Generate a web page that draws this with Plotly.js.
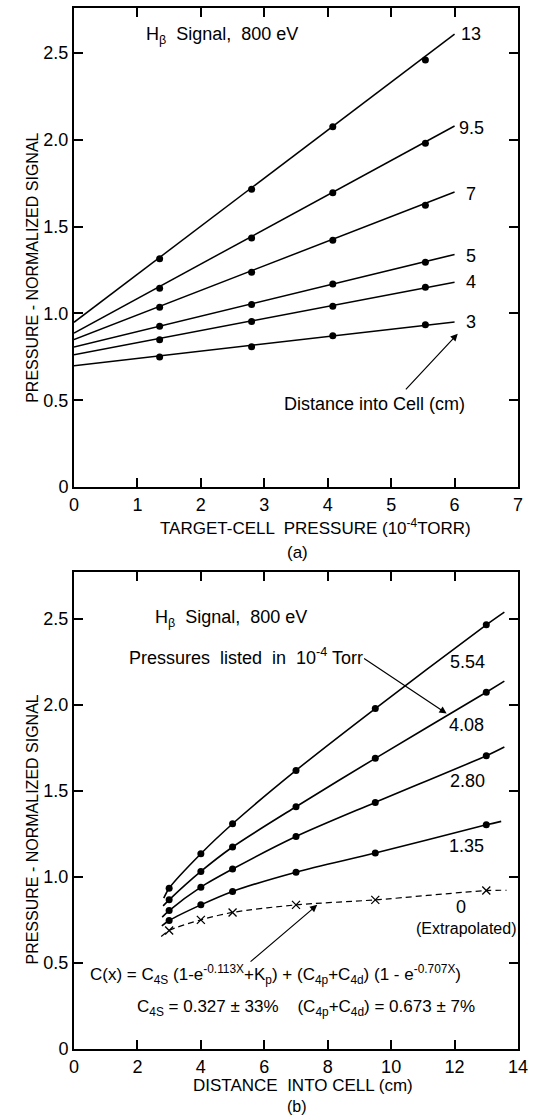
<!DOCTYPE html>
<html>
<head>
<meta charset="utf-8">
<script src="https://cdn.plot.ly/plotly-3.0.1.min.js"></script>
<style>html,body{margin:0;padding:0;background:#fff;}#chart{width:540px;height:1118px;}</style>
</head>
<body>
<div id="chart"></div>
<script>
// ---------- Panel (a): signal vs target-cell pressure ----------
const pressures = [1.35, 2.80, 4.08, 5.54];          // 10^-4 Torr
const distanceLabels = ['13', '9.5', '7', '5', '4', '3']; // cm
const signalD13  = [1.315, 1.715, 2.075, 2.461];
const signalD9_5 = [1.145, 1.434, 1.696, 1.980];
const signalD7   = [1.035, 1.237, 1.422, 1.624];
const signalD5   = [0.926, 1.051, 1.170, 1.295];
const signalD4   = [0.849, 0.954, 1.041, 1.151];
const signalD3   = [0.749, 0.808, 0.872, 0.935];
const fitX = [0, 6];
const fitAtZero = [0.949, 0.887, 0.849, 0.807, 0.762, 0.699];
const fitAtSix  = [2.610, 2.080, 1.700, 1.340, 1.180, 0.951];
const labelY_a  = [2.61, 2.07, 1.69, 1.33, 1.18, 0.95];

// ---------- Panel (b): signal vs distance into cell ----------
const distances = [3, 4, 5, 7, 9.5, 13];             // cm
const pressureLabels = ['5.54', '4.08', '2.80', '1.35', '0'];
const signalP554 = [0.934, 1.134, 1.308, 1.618, 1.977, 2.463];
const signalP408 = [0.866, 1.031, 1.173, 1.407, 1.688, 2.072];
const signalP280 = [0.804, 0.940, 1.045, 1.234, 1.432, 1.703];
const signalP135 = [0.746, 0.837, 0.915, 1.027, 1.138, 1.302];
const signalP0   = [0.688, 0.750, 0.793, 0.837, 0.866, 0.920]; // extrapolated
const curveStartX = [2.83, 2.81, 2.78, 2.77, 2.75];
const curveStartY = [0.876, 0.831, 0.766, 0.715, 0.653];
const curveEndX   = [13.57, 13.57, 13.57, 13.47, 13.64];
const curveEndY   = [2.537, 2.136, 1.754, 1.322, 0.922];
const labelX_b = [12.41, 12.37, 12.42, 12.37, 12.21];
const labelY_b = [2.25, 1.884, 1.554, 1.18, 0.827];

const FONT = 'Liberation Sans, Arial, sans-serif';
const traces = [];
const seriesA = [signalD13, signalD9_5, signalD7, signalD5, signalD4, signalD3];
seriesA.forEach((s, i) => {
  traces.push({x: fitX, y: [fitAtZero[i], fitAtSix[i]], mode: 'lines', xaxis: 'x', yaxis: 'y',
    line: {color: '#000', width: 1.5}, hoverinfo: 'skip', showlegend: false});
  traces.push({x: pressures, y: s, mode: 'markers', xaxis: 'x', yaxis: 'y',
    marker: {color: '#000', size: 7}, showlegend: false, name: distanceLabels[i] + ' cm'});
});

const seriesB = [signalP554, signalP408, signalP280, signalP135, signalP0];
seriesB.forEach((s, i) => {
  const isZero = i === 4;
  traces.push({x: [curveStartX[i]].concat(distances, [curveEndX[i]]),
    y: [curveStartY[i]].concat(s, [curveEndY[i]]), mode: 'lines', xaxis: 'x2', yaxis: 'y2',
    line: {color: '#000', width: isZero ? 1.2 : 1.6, shape: 'spline', smoothing: 0.8, dash: isZero ? '6px,4px' : 'solid'},
    hoverinfo: 'skip', showlegend: false});
  traces.push({x: distances, y: s, mode: 'markers', xaxis: 'x2', yaxis: 'y2',
    marker: isZero ? {color: '#000', size: 8, symbol: 'x-thin-open', line: {width: 1.3, color: '#000'}} : {color: '#000', size: 7},
    showlegend: false, name: pressureLabels[i]});
});

const axisCommon = {showline: true, mirror: 'ticks', linecolor: '#000', linewidth: 2,
  ticks: 'inside', ticklen: 9, tickwidth: 2, tickcolor: '#000', showgrid: false, zeroline: false,
  tickfont: {family: FONT, size: 18, color: '#000'}};

const ann = [];
const txt = (text, x, y, xref, yref, size, extra) => Object.assign({text: text, x: x, y: y, xref: xref, yref: yref,
  showarrow: false, font: {family: FONT, size: size, color: '#000'}}, extra || {});

// panel (a) labels
distanceLabels.forEach((l, i) => ann.push(txt(l, 6.26, labelY_a[i], 'x', 'y', 18, {xanchor: 'center'})));
ann.push(txt('H<sub>β</sub>  Signal,  800 eV', 1.1, 2.6, 'x', 'y', 18, {xanchor: 'left'}));
ann.push(txt('Distance into Cell (cm)', 3.28, 0.48, 'x', 'y', 18, {xanchor: 'left'}));
ann.push({x: 6.05, y: 0.883, ax: 5.21, ay: 0.554, xref: 'x', yref: 'y', axref: 'x', ayref: 'y',
  showarrow: true, arrowhead: 2, arrowsize: 1.2, arrowwidth: 1.2, arrowcolor: '#000', text: ''});
ann.push(txt('TARGET-CELL  PRESSURE (10<sup>-4</sup>TORR)', 0.543, 0.5014, 'paper', 'paper', 17, {yanchor: 'middle'}));
ann.push(txt('(a)', 0.503, 0.4774, 'paper', 'paper', 17, {yanchor: 'middle'}));
ann.push(txt('PRESSURE - NORMALIZED SIGNAL', -0.117, 0.75, 'paper', 'paper', 16, {textangle: -90, yanchor: 'middle'}));

// panel (b) labels
pressureLabels.forEach((l, i) => ann.push(txt(l, labelX_b[i], labelY_b[i], 'x2', 'y2', 18, {xanchor: 'center'})));
ann.push(txt('(Extrapolated)', 12.37, 0.70, 'x2', 'y2', 16, {xanchor: 'center'}));
ann.push(txt('H<sub>β</sub>  Signal,  800 eV', 2.5, 2.5, 'x2', 'y2', 18, {xanchor: 'left'}));
ann.push(txt('Pressures  listed  in  10<sup>-4</sup> Torr', 1.67, 2.28, 'x2', 'y2', 18, {xanchor: 'left'}));
ann.push({x: 11.75, y: 1.948, ax: 9.1, ay: 2.273, xref: 'x2', yref: 'y2', axref: 'x2', ayref: 'y2',
  showarrow: true, arrowhead: 2, arrowsize: 1.2, arrowwidth: 1.2, arrowcolor: '#000', text: ''});
ann.push(txt('C(x) = C<sub>4S</sub> (1-e<sup>-0.113X</sup>+K<sub>p</sub>) + (C<sub>4p</sub>+C<sub>4d</sub>) (1 - e<sup>-0.707X</sup>)',
  6.36, 0.43, 'x2', 'y2', 17, {xanchor: 'center'}));
ann.push(txt('C<sub>4S</sub> = 0.327 ± 33%    (C<sub>4p</sub>+C<sub>4d</sub>) = 0.673 ± 7%',
  7.3, 0.237, 'x2', 'y2', 17, {xanchor: 'center'}));
ann.push({x: 7.67, y: 0.837, ax: 5.52, ay: 0.50, xref: 'x2', yref: 'y2', axref: 'x2', ayref: 'y2',
  showarrow: true, arrowhead: 2, arrowsize: 1.2, arrowwidth: 1.2, arrowcolor: '#000', text: ''});
ann.push(txt('DISTANCE  INTO CELL (cm)', 0.516, -0.0355, 'paper', 'paper', 17, {yanchor: 'middle'}));
ann.push(txt('(b)', 0.503, -0.0653, 'paper', 'paper', 16, {yanchor: 'bottom'}));
ann.push(txt('PRESSURE - NORMALIZED SIGNAL', -0.117, 0.2104, 'paper', 'paper', 16, {textangle: -90, yanchor: 'middle'}));

const layout = {
  width: 540, height: 1118,
  margin: {l: 74, r: 22, t: 8, b: 69},
  paper_bgcolor: '#fff', plot_bgcolor: '#fff',
  font: {family: FONT, color: '#000'},
  showlegend: false,
  xaxis: Object.assign({}, axisCommon, {domain: [0, 1], range: [0, 7], tickvals: [0,1,2,3,4,5,6,7], anchor: 'y'}),
  yaxis: Object.assign({}, axisCommon, {domain: [0.5399, 1], range: [0, 2.76], tickvals: [0,0.5,1,1.5,2,2.5],
    ticktext: ['0','0.5','1.0','1.5','2.0','2.5'], anchor: 'x'}),
  xaxis2: Object.assign({}, axisCommon, {domain: [0, 1], range: [0, 14], tickvals: [0,2,4,6,8,10,12,14], anchor: 'y2'}),
  yaxis2: Object.assign({}, axisCommon, {domain: [0, 0.4582], range: [0, 2.77], tickvals: [0,0.5,1,1.5,2,2.5],
    ticktext: ['0','0.5','1.0','1.5','2.0','2.5'], anchor: 'x2'}),
  annotations: ann
};

Plotly.newPlot('chart', traces, layout, {staticPlot: true, displayModeBar: false});
</script>
</body>
</html>
